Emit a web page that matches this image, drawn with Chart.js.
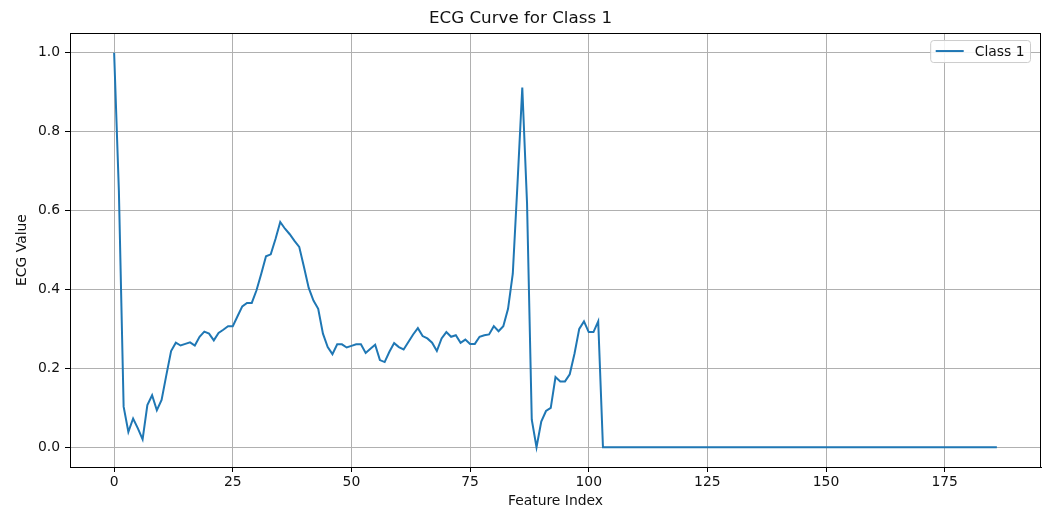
<!DOCTYPE html>
<html>
<head>
<meta charset="utf-8">
<script src="https://cdn.jsdelivr.net/npm/chart.js@4"></script>
<style>
html, body { margin: 0; padding: 0; background: #fff; }
</style>
</head>
<body>
<canvas id="ecgChart" width="1049" height="510"></canvas>
<script>
// values, index 0..186
var class1 = [
    1.000, 0.650, 0.103, 0.039, 0.073, 0.048, 0.020, 0.107, 0.132, 0.094,
    0.120, 0.183, 0.244, 0.265, 0.258, 0.262, 0.266, 0.258, 0.280, 0.293,
    0.288, 0.271, 0.290, 0.298, 0.307, 0.307, 0.332, 0.357, 0.366, 0.366,
    0.398, 0.440, 0.484, 0.489, 0.528, 0.571, 0.554, 0.540, 0.523, 0.508,
    0.457, 0.404, 0.372, 0.351, 0.288, 0.254, 0.236, 0.261, 0.261, 0.253,
    0.257, 0.261, 0.261, 0.239, 0.250, 0.260, 0.221, 0.216, 0.242, 0.264,
    0.254, 0.248, 0.267, 0.286, 0.302, 0.282, 0.276, 0.265, 0.244, 0.276,
    0.292, 0.280, 0.284, 0.265, 0.273, 0.262, 0.262, 0.280, 0.284, 0.286,
    0.307, 0.294, 0.307, 0.351, 0.440, 0.670, 0.912, 0.620, 0.070, 0.000,
    0.065, 0.092, 0.100, 0.178, 0.167, 0.167, 0.185, 0.237, 0.300, 0.319,
    0.292, 0.292, 0.319, 0.000, 0.000, 0.000, 0.000, 0.000, 0.000, 0.000,
    0, 0, 0, 0, 0, 0, 0, 0, 0, 0,
    0, 0, 0, 0, 0, 0, 0, 0, 0, 0,
    0, 0, 0, 0, 0, 0, 0, 0, 0, 0,
    0, 0, 0, 0, 0, 0, 0, 0, 0, 0,
    0, 0, 0, 0, 0, 0, 0, 0, 0, 0,
    0, 0, 0, 0, 0, 0, 0, 0, 0, 0,
    0, 0, 0, 0, 0, 0, 0, 0, 0, 0,
    0, 0, 0, 0, 0, 0, 0
];
var xTicks = [0, 25, 50, 75, 100, 125, 150, 175];
var yTicks = [0.0, 0.2, 0.4, 0.6, 0.8, 1.0];

Chart.defaults.font.family = "'DejaVu Sans', sans-serif";
Chart.defaults.font.size = 13.9;
Chart.defaults.color = '#111';

// black frame on all four sides, like the matplotlib spines
var framePlugin = {
    id: 'frame',
    afterDatasetsDraw: function (chart) {
        var a = chart.chartArea, ctx = chart.ctx;
        ctx.save();
        ctx.strokeStyle = '#000';
        ctx.lineWidth = 1;
        ctx.strokeRect(Math.round(a.left) + 0.5, Math.round(a.top) + 0.5,
            Math.round(a.right - a.left) - 1, Math.round(a.bottom - a.top));
        ctx.restore();
    }
};

// legend box in the upper right corner inside the plot
var boxLegend = {
    id: 'boxLegend',
    afterDraw: function (chart) {
        var a = chart.chartArea, ctx = chart.ctx;
        var ds = chart.data.datasets[0];
        ctx.save();
        ctx.font = '13.9px "DejaVu Sans", sans-serif';
        var tw = ctx.measureText(ds.label).width;
        var w = 5.5 + 28 + 11 + tw + 5.5;
        var h = 22;
        var x = a.right - 11 - w, y = a.top + 7;
        ctx.beginPath();
        ctx.roundRect(x + 0.5, y + 0.5, w, h, 3);
        ctx.fillStyle = 'rgba(255,255,255,0.85)';
        ctx.fill();
        ctx.strokeStyle = '#cccccc';
        ctx.lineWidth = 1;
        ctx.stroke();
        ctx.beginPath();
        ctx.moveTo(x + 5.5, y + h / 2);
        ctx.lineTo(x + 5.5 + 28, y + h / 2);
        ctx.strokeStyle = ds.borderColor;
        ctx.lineWidth = 2;
        ctx.stroke();
        ctx.fillStyle = '#111';
        ctx.textBaseline = 'middle';
        ctx.fillText(ds.label, x + 5.5 + 28 + 11, y + h / 2 + 1);
        ctx.restore();
    }
};

var ctx = document.getElementById('ecgChart');
var ecgChart = new Chart(ctx, {
    type: 'line',
    data: {
        datasets: [{
            label: 'Class 1',
            data: class1.map(function (v, i) { return { x: i, y: v }; }),
            borderColor: '#1f77b4',
            backgroundColor: '#1f77b4',
            borderWidth: 2,
            pointRadius: 0,
            tension: 0,
            fill: false,
        }]
    },
    options: {
        responsive: false,
        animation: false,
        devicePixelRatio: 1,
        layout: {
            padding: { left: 0, right: 8, top: 0, bottom: 0 }
        },
        plugins: {
            legend: { display: false },
            tooltip: { enabled: false },
            title: {
                display: true,
                text: 'ECG Curve for Class 1',
                color: '#111',
                font: { size: 16.7, weight: 'normal' },
                padding: { top: 9, bottom: 4 },
            },
        },
        scales: {
            x: {
                type: 'linear',
                min: -9.3,
                max: 195.3,
                afterBuildTicks: function (axis) {
                    axis.ticks = xTicks.map(function (v) { return { value: v }; });
                },
                afterFit: function (axis) { axis.height = 43; },
                ticks: {
                    padding: 2,
                    maxRotation: 0,
                    autoSkip: false,
                    callback: function (v) { return String(v); },
                },
                grid: {
                    color: '#b0b0b0',
                    lineWidth: 1,
                    tickColor: '#000',
                    tickLength: 5,
                },
                border: { display: true, color: '#000', width: 1 },
                title: {
                    display: true,
                    text: 'Feature Index',
                    padding: { top: 0, bottom: 0 },
                },
            },
            y: {
                min: -0.05,
                max: 1.05,
                afterBuildTicks: function (axis) {
                    axis.ticks = yTicks.map(function (v) { return { value: v }; });
                },
                afterFit: function (axis) { axis.width = 70; },
                ticks: {
                    padding: 5,
                    autoSkip: false,
                    callback: function (v) { return Number(v).toFixed(1); },
                },
                grid: {
                    color: '#b0b0b0',
                    lineWidth: 1,
                    tickColor: '#000',
                    tickLength: 5,
                },
                border: { display: true, color: '#000', width: 1 },
                title: {
                    display: true,
                    text: 'ECG Value',
                    padding: { top: 14, bottom: 0 },
                },
            }
        }
    },
    plugins: [framePlugin, boxLegend]
});
</script>
</body>
</html>
